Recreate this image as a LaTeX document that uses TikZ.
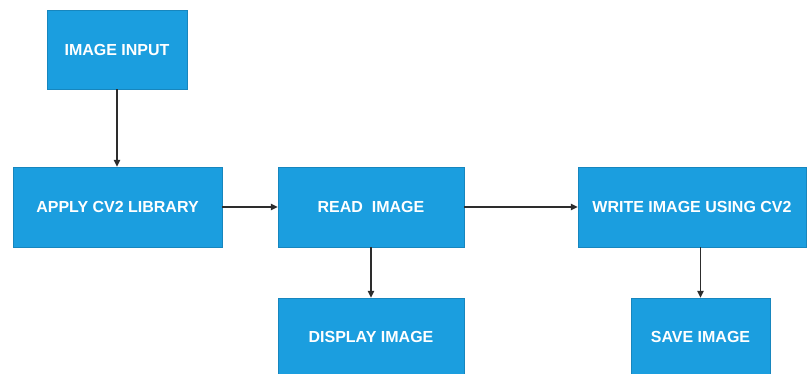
\documentclass[tikz,border=0pt]{standalone}
\usepackage{fontspec}
\setmainfont{Liberation Sans}
\usetikzlibrary{arrows.meta}
\definecolor{boxblue}{RGB}{27,158,223}
\definecolor{linegray}{RGB}{45,45,45}
\begin{document}
\begin{tikzpicture}[x=1pt,y=-1pt,
  box/.style={fill=boxblue,draw=boxblue!85!black,line width=0.4pt,inner sep=0pt,
    text=white,font=\fontsize{16}{18}\selectfont\bfseries},
  conn/.style={draw=linegray,line width=1.4pt,-{Triangle[length=7pt,width=6.5pt]}}]
\useasboundingbox (0,0) rectangle (808,374);
\node[box,minimum width=140pt,minimum height=79pt] (input) at (117,49.5) {IMAGE INPUT};
\node[box,minimum width=209pt,minimum height=80pt] (apply) at (117.5,207) {APPLY CV2 LIBRARY};
\node[box,minimum width=186pt,minimum height=80pt] (read) at (371,207) {READ\ \ IMAGE};
\node[box,minimum width=228pt,minimum height=80pt] (write) at (692,207) {WRITE IMAGE USING CV2};
\node[box,minimum width=186pt,minimum height=77pt] (display) at (371,336.5) {DISPLAY IMAGE};
\node[box,minimum width=139pt,minimum height=77pt] (save) at (700.5,336.5) {SAVE IMAGE};
\draw[conn] (input) -- (input |- apply.north);
\draw[conn] (apply) -- (read);
\draw[conn] (read) -- (write);
\draw[conn] (read) -- (display);
\draw[conn] (write.south -| save.north) -- (save);
\end{tikzpicture}
\end{document}
